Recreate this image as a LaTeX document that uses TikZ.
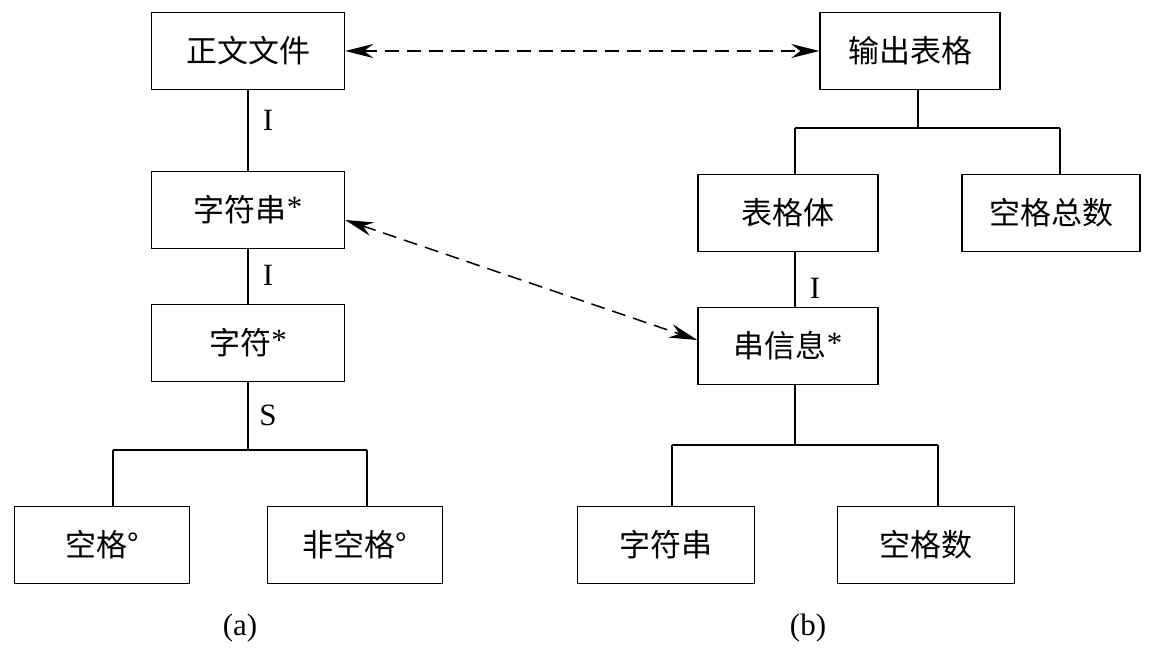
\documentclass[tikz,border=0pt]{standalone}
\usepackage{fontspec}
\setmainfont{Liberation Serif}
\newfontfamily\cjk{Noto Sans CJK SC}
\usetikzlibrary{arrows.meta}
\newcommand{\myast}{\raisebox{4pt}{\rmfamily *}}
\begin{document}
\begin{tikzpicture}[x=1pt,y=-1pt,
 box/.style={draw,line width=1.5pt,minimum width=178pt,minimum height=77pt,inner sep=0pt,font=\cjk\fontsize{31}{36}\selectfont},
 ln/.style={line width=1.5pt},
 da/.style={line width=1.5pt,dash pattern=on 14pt off 8pt,{Stealth[length=28pt,width=14pt]}-{Stealth[length=28pt,width=14pt]}},
 lab/.style={font=\fontsize{31}{36}\selectfont}]
\useasboundingbox (0,0) rectangle (1158,660);
\node[box,minimum width=193pt] (zw) at (248,51) {正文文件};
\node[box,minimum width=193pt] (zfc) at (248,210) {字符串\myast};
\node[box,minimum width=193pt] (zf) at (248,343) {字符\myast};
\node[box,minimum width=175pt] (kg) at (102,545) {空格°};
\node[box,minimum width=175pt] (fkg) at (355,545) {非空格°};
\node[box,minimum width=180pt] (sc) at (910,51) {输出表格};
\node[box,minimum width=180pt] (bgt) at (788,213) {表格体};
\node[box,minimum width=178pt] (kgzs) at (1051,213) {空格总数};
\node[box,minimum width=180pt] (cxx) at (788,346) {串信息\myast};
\node[box,minimum width=177pt] (zfc2) at (666,545) {字符串};
\node[box,minimum width=177pt] (kgs) at (926,545) {空格数};
\coordinate (a1) at (248,450); \coordinate (a2) at (113,450); \coordinate (a3) at (367,450);
\coordinate (b1) at (918,128); \coordinate (b2) at (795,128); \coordinate (b3) at (1060,128);
\coordinate (c1) at (795,445); \coordinate (c2) at (672,445); \coordinate (c3) at (938,445);
\draw[ln] (zw) -- (zfc);
\draw[ln] (zfc) -- (zf);
\draw[ln] (zf) -- (a1);
\draw[ln] (a2) -- (a3);
\draw[ln] (a2) -- (a2|-kg.north);
\draw[ln] (a3) -- (a3|-fkg.north);
\draw[ln] (b1|-sc.south) -- (b1);
\draw[ln] (b2) -- (b3);
\draw[ln] (b2) -- (b2|-bgt.north);
\draw[ln] (b3) -- (b3|-kgzs.north);
\draw[ln] (b2|-bgt.south) -- (b2|-cxx.north);
\draw[ln] (c1|-cxx.south) -- (c1);
\draw[ln] (c2) -- (c3);
\draw[ln] (c2) -- (c2|-zfc2.north);
\draw[ln] (c3) -- (c3|-kgs.north);
\node[lab] (l1) at (268,120) {I};
\node[lab] (l2) at (268,275) {I};
\node[lab] (l3) at (268,415) {S};
\node[lab] (l4) at (815,288) {I};
\draw[da] (zw.east) -- (sc.west);
\draw[da] ([yshift=-10pt]zfc.east) -- ([yshift=6pt]cxx.west);
\node[lab] (ca) at (240,628) {(a)};
\node[lab] (cb) at (808,628) {(b)};
\end{tikzpicture}
\end{document}
